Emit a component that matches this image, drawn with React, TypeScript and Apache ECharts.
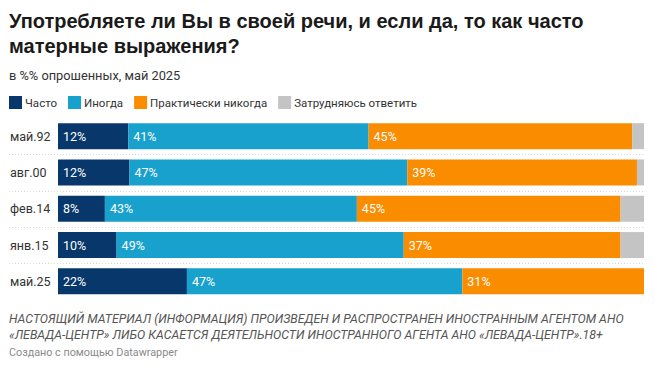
import React, { useEffect, useRef } from "react";
import * as echarts from "echarts";

const categories = ["май.92", "авг.00", "фев.14", "янв.15", "май.25"];
const seriesNames = ["Часто", "Иногда", "Практически никогда", "Затрудняюсь ответить"];
const often = [12, 12.2, 8, 10, 22];
const sometimes = [41, 47.4, 43, 49, 47];
const never = [45, 39.2, 45, 37, 31];
const unsure = [2, 1.2, 4, 4, 0];
const colors = ["#08386b", "#18a1cd", "#fa8c00", "#c4c4c4"];

const FONT = "Roboto, 'Noto Sans', sans-serif";
const TITLE_FONT = "'Liberation Sans', Arial, sans-serif";

export default function App() {
  const ref = useRef<HTMLDivElement>(null);
  useEffect(() => {
    document.body.style.margin = "0";
    const chart = echarts.init(ref.current!, null, { renderer: "svg" });
    const gridTop = 118;
    const gridHeight = 181.5;
    const gridLeft = 58;
    const gridRight = 11;
    const band = gridHeight / categories.length;
    const separators = [];
    for (let i = 1; i < categories.length; i++) {
      const y = Math.round(gridTop + band * i) + 0.5;
      separators.push({
        type: "line",
        shape: { x1: 9, y1: y, x2: 655 - gridRight, y2: y },
        style: { stroke: "#d9d9d9", lineWidth: 1, lineDash: [1, 2] },
        silent: true,
      });
    }
    const dataSets = [often, sometimes, never, unsure];
    chart.setOption({
      animation: false,
      textStyle: { fontFamily: FONT },
      title: [
        {
          text: "Употребляете ли Вы в своей речи, и если да, то как часто\nматерные выражения?",
          left: 9,
          top: 8,
          padding: 0,
          textStyle: { fontSize: 20, fontWeight: "bold", color: "#1a1a1a", lineHeight: 25, fontFamily: TITLE_FONT },
        },
        {
          text: "в %% опрошенных, май 2025",
          left: 9,
          top: 69,
          padding: 0,
          textStyle: { fontSize: 12.8, fontWeight: "normal", color: "#333", fontFamily: FONT },
        },
      ],
      legend: {
        left: 9,
        top: 96,
        padding: 0,
        itemWidth: 13,
        itemHeight: 13,
        itemGap: 11,
        icon: "rect",
        data: seriesNames,
        textStyle: { fontSize: 11.5, color: "#333", padding: [0, 0, 0, -2], fontFamily: FONT },
      },
      grid: { left: gridLeft, right: gridRight, top: gridTop, height: gridHeight, containLabel: false },
      xAxis: { type: "value", min: 0, max: 100, show: false },
      yAxis: {
        type: "category",
        data: categories,
        inverse: true,
        axisLine: { show: false },
        axisTick: { show: false },
        splitLine: { show: false },
        axisLabel: { align: "left", margin: 48, fontSize: 12.5, color: "#333", fontFamily: FONT },
      },
      graphic: [
        ...separators,
        {
          type: "text",
          left: 9,
          top: 311,
          style: {
            text: "НАСТОЯЩИЙ МАТЕРИАЛ (ИНФОРМАЦИЯ) ПРОИЗВЕДЕН И РАСПРОСТРАНЕН ИНОСТРАННЫМ АГЕНТОМ АНО\n«ЛЕВАДА-ЦЕНТР» ЛИБО КАСАЕТСЯ ДЕЯТЕЛЬНОСТИ ИНОСТРАННОГО АГЕНТА АНО «ЛЕВАДА-ЦЕНТР».18+",
            fontSize: 12.3,
            fontStyle: "italic",
            lineHeight: 16,
            fill: "#555",
            fontFamily: FONT,
          },
        },
        {
          type: "text",
          left: 9,
          top: 347,
          style: { text: "Создано с помощью Datawrapper", fontSize: 10.8, fill: "#8a8a8a", fontFamily: FONT },
        },
      ],
      series: seriesNames.map((name, i) => ({
        name,
        type: "bar",
        stack: "total",
        data: dataSets[i],
        barWidth: 26,
        itemStyle: { color: colors[i] },
        label: {
          show: i < 3,
          position: "insideLeft",
          distance: 5,
          color: "#fff",
          fontSize: 12.5,
          fontFamily: FONT,
          formatter: (p: any) => (p.value > 0 ? Math.round(p.value) + "%" : ""),
        },
      })),
    });
    return () => chart.dispose();
  }, []);
  return <div ref={ref} style={{ width: 655, height: 367, position: "absolute", left: 0, top: 0, background: "#fff" }} />;
}
